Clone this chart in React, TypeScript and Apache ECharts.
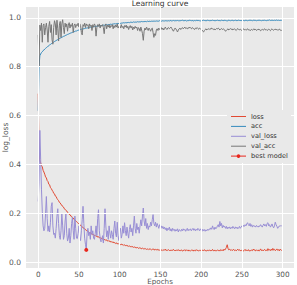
import React, { useEffect, useRef } from "react";
import * as echarts from "echarts";

// Training history, one value per epoch (0..299)
const loss = [
  0.690, 0.452, 0.416, 0.408, 0.396, 0.391, 0.377, 0.370, 0.361, 0.350,
  0.346, 0.335, 0.331, 0.320, 0.318, 0.306, 0.303, 0.296, 0.291, 0.283,
  0.281, 0.272, 0.270, 0.262, 0.257, 0.253, 0.246, 0.244, 0.237, 0.235,
  0.229, 0.227, 0.220, 0.218, 0.213, 0.211, 0.205, 0.203, 0.197, 0.196,
  0.190, 0.189, 0.183, 0.182, 0.176, 0.175, 0.170, 0.168, 0.164, 0.161,
  0.158, 0.155, 0.153, 0.148, 0.147, 0.142, 0.141, 0.137, 0.136, 0.131,
  0.130, 0.127, 0.126, 0.121, 0.123, 0.117, 0.118, 0.114, 0.115, 0.110,
  0.111, 0.107, 0.109, 0.104, 0.106, 0.101, 0.103, 0.098, 0.100, 0.096,
  0.097, 0.093, 0.095, 0.090, 0.093, 0.088, 0.090, 0.086, 0.089, 0.084,
  0.085, 0.083, 0.085, 0.080, 0.082, 0.078, 0.081, 0.076, 0.079, 0.075,
  0.077, 0.073, 0.076, 0.072, 0.074, 0.070, 0.073, 0.069, 0.071, 0.067,
  0.070, 0.066, 0.068, 0.065, 0.067, 0.063, 0.066, 0.062, 0.064, 0.061,
  0.063, 0.060, 0.062, 0.058, 0.061, 0.058, 0.060, 0.056, 0.059, 0.056,
  0.058, 0.055, 0.057, 0.054, 0.056, 0.053, 0.057, 0.054, 0.055, 0.052,
  0.055, 0.053, 0.056, 0.051, 0.054, 0.052, 0.055, 0.050, 0.053, 0.051,
  0.054, 0.050, 0.053, 0.049, 0.052, 0.051, 0.055, 0.049, 0.052, 0.050,
  0.053, 0.049, 0.051, 0.048, 0.052, 0.050, 0.054, 0.049, 0.051, 0.048,
  0.052, 0.050, 0.053, 0.048, 0.051, 0.049, 0.052, 0.047, 0.050, 0.049,
  0.053, 0.048, 0.051, 0.049, 0.052, 0.047, 0.050, 0.048, 0.051, 0.049,
  0.052, 0.047, 0.050, 0.048, 0.053, 0.049, 0.051, 0.047, 0.050, 0.049,
  0.052, 0.048, 0.051, 0.049, 0.053, 0.048, 0.050, 0.047, 0.051, 0.049,
  0.052, 0.048, 0.050, 0.049, 0.054, 0.048, 0.051, 0.047, 0.050, 0.048,
  0.052, 0.049, 0.051, 0.047, 0.053, 0.050, 0.052, 0.048, 0.055, 0.051,
  0.056, 0.062, 0.073, 0.058, 0.052, 0.055, 0.050, 0.053, 0.049, 0.052,
  0.054, 0.049, 0.052, 0.048, 0.051, 0.055, 0.050, 0.053, 0.048, 0.051,
  0.049, 0.052, 0.047, 0.050, 0.054, 0.048, 0.051, 0.049, 0.053, 0.047,
  0.050, 0.048, 0.052, 0.049, 0.055, 0.050, 0.053, 0.048, 0.051, 0.049,
  0.052, 0.047, 0.050, 0.056, 0.049, 0.052, 0.048, 0.051, 0.054, 0.049,
  0.051, 0.048, 0.057, 0.050, 0.053, 0.049, 0.055, 0.050, 0.058, 0.051,
  0.054, 0.049, 0.052, 0.056, 0.050, 0.053, 0.048, 0.055, 0.051, 0.050,
];

const acc = [
  0.620, 0.800, 0.845, 0.852, 0.858, 0.861, 0.866, 0.868, 0.872, 0.875,
  0.878, 0.880, 0.884, 0.886, 0.889, 0.891, 0.894, 0.896, 0.899, 0.900,
  0.903, 0.905, 0.907, 0.909, 0.911, 0.913, 0.915, 0.917, 0.918, 0.920,
  0.922, 0.924, 0.925, 0.927, 0.929, 0.930, 0.932, 0.933, 0.935, 0.936,
  0.938, 0.939, 0.940, 0.942, 0.943, 0.944, 0.946, 0.946, 0.948, 0.949,
  0.950, 0.951, 0.952, 0.953, 0.954, 0.955, 0.955, 0.956, 0.957, 0.958,
  0.958, 0.959, 0.960, 0.960, 0.961, 0.962, 0.962, 0.963, 0.963, 0.964,
  0.965, 0.964, 0.966, 0.966, 0.967, 0.967, 0.968, 0.967, 0.969, 0.969,
  0.970, 0.969, 0.971, 0.970, 0.972, 0.971, 0.972, 0.973, 0.972, 0.974,
  0.973, 0.974, 0.975, 0.974, 0.976, 0.975, 0.976, 0.977, 0.976, 0.977,
  0.978, 0.977, 0.978, 0.979, 0.978, 0.980, 0.979, 0.980, 0.979, 0.981,
  0.980, 0.981, 0.980, 0.982, 0.981, 0.982, 0.981, 0.983, 0.982, 0.982,
  0.983, 0.982, 0.984, 0.983, 0.983, 0.984, 0.983, 0.985, 0.984, 0.984,
  0.985, 0.984, 0.985, 0.984, 0.986, 0.985, 0.985, 0.986, 0.985, 0.986,
  0.986, 0.985, 0.987, 0.986, 0.986, 0.987, 0.986, 0.987, 0.986, 0.988,
  0.987, 0.986, 0.987, 0.988, 0.987, 0.987, 0.988, 0.987, 0.988, 0.987,
  0.988, 0.987, 0.989, 0.988, 0.987, 0.988, 0.989, 0.988, 0.987, 0.989,
  0.988, 0.989, 0.988, 0.987, 0.989, 0.988, 0.989, 0.990, 0.988, 0.989,
  0.988, 0.989, 0.987, 0.988, 0.989, 0.988, 0.990, 0.989, 0.988, 0.989,
  0.988, 0.987, 0.989, 0.988, 0.989, 0.990, 0.988, 0.989, 0.988, 0.987,
  0.989, 0.988, 0.989, 0.990, 0.989, 0.988, 0.989, 0.988, 0.990, 0.989,
  0.988, 0.989, 0.988, 0.989, 0.990, 0.989, 0.988, 0.989, 0.988, 0.989,
  0.990, 0.989, 0.988, 0.989, 0.988, 0.990, 0.989, 0.989, 0.988, 0.990,
  0.989, 0.988, 0.987, 0.989, 0.990, 0.989, 0.988, 0.989, 0.990, 0.989,
  0.988, 0.989, 0.990, 0.989, 0.988, 0.989, 0.990, 0.989, 0.989, 0.988,
  0.989, 0.990, 0.989, 0.988, 0.989, 0.990, 0.989, 0.988, 0.989, 0.990,
  0.989, 0.990, 0.989, 0.988, 0.990, 0.989, 0.990, 0.989, 0.988, 0.989,
  0.990, 0.989, 0.990, 0.989, 0.988, 0.989, 0.990, 0.989, 0.990, 0.989,
  0.988, 0.990, 0.989, 0.990, 0.991, 0.989, 0.990, 0.989, 0.990, 0.989,
  0.990, 0.989, 0.990, 0.991, 0.989, 0.990, 0.989, 0.990, 0.989, 0.990,
];

const valLoss = [
  0.250, 0.330, 0.540, 0.420, 0.300, 0.210, 0.150, 0.130, 0.140, 0.200,
  0.270, 0.180, 0.128, 0.150, 0.125, 0.165, 0.230, 0.245, 0.150, 0.115,
  0.120, 0.100, 0.140, 0.190, 0.220, 0.160, 0.110, 0.095, 0.130, 0.200,
  0.150, 0.095, 0.110, 0.170, 0.200, 0.120, 0.088, 0.100, 0.140, 0.080,
  0.110, 0.160, 0.185, 0.130, 0.095, 0.190, 0.140, 0.100, 0.098, 0.120,
  0.150, 0.105, 0.090, 0.130, 0.175, 0.230, 0.160, 0.100, 0.075, 0.052,
  0.120, 0.140, 0.110, 0.125, 0.095, 0.150, 0.115, 0.130, 0.100, 0.095,
  0.120, 0.150, 0.110, 0.180, 0.216, 0.130, 0.100, 0.085, 0.090, 0.110,
  0.080, 0.140, 0.220, 0.150, 0.105, 0.130, 0.095, 0.150, 0.120, 0.100,
  0.130, 0.115, 0.095, 0.140, 0.170, 0.120, 0.105, 0.165, 0.110, 0.090,
  0.125, 0.140, 0.100, 0.115, 0.150, 0.120, 0.163, 0.130, 0.110, 0.145,
  0.120, 0.100, 0.135, 0.155, 0.125, 0.140, 0.110, 0.150, 0.190, 0.140,
  0.120, 0.160, 0.135, 0.145, 0.120, 0.150, 0.175, 0.150, 0.190, 0.223,
  0.170, 0.150, 0.180, 0.140, 0.160, 0.135, 0.150, 0.145, 0.165, 0.150,
  0.175, 0.196, 0.160, 0.150, 0.165, 0.145, 0.160, 0.150, 0.140, 0.155,
  0.145, 0.150, 0.140, 0.148, 0.138, 0.145, 0.135, 0.142, 0.130, 0.140,
  0.135, 0.145, 0.130, 0.138, 0.128, 0.140, 0.132, 0.136, 0.128, 0.135,
  0.130, 0.138, 0.125, 0.135, 0.132, 0.128, 0.136, 0.130, 0.138, 0.132,
  0.136, 0.128, 0.134, 0.140, 0.130, 0.136, 0.132, 0.138, 0.130, 0.135,
  0.140, 0.132, 0.138, 0.130, 0.136, 0.132, 0.140, 0.135, 0.130, 0.138,
  0.132, 0.128, 0.136, 0.130, 0.135, 0.128, 0.134, 0.130, 0.136, 0.132,
  0.138, 0.135, 0.142, 0.136, 0.150, 0.140, 0.135, 0.145, 0.138, 0.142,
  0.150, 0.155, 0.145, 0.168, 0.150, 0.160, 0.142, 0.152, 0.145, 0.148,
  0.140, 0.148, 0.138, 0.145, 0.140, 0.146, 0.138, 0.144, 0.140, 0.148,
  0.142, 0.138, 0.146, 0.140, 0.145, 0.138, 0.142, 0.148, 0.140, 0.145,
  0.150, 0.145, 0.152, 0.148, 0.155, 0.150, 0.158, 0.163, 0.155, 0.150,
  0.160, 0.148, 0.155, 0.145, 0.152, 0.148, 0.150, 0.145, 0.152, 0.148,
  0.145, 0.150, 0.148, 0.155, 0.150, 0.145, 0.152, 0.158, 0.150, 0.155,
  0.148, 0.160, 0.163, 0.150, 0.155, 0.145, 0.150, 0.158, 0.148, 0.142,
  0.150, 0.165, 0.155, 0.148, 0.140, 0.145, 0.150, 0.148, 0.152, 0.148,
];

const valAcc = [
  0.930, 0.800, 0.970, 0.948, 0.978, 0.900, 0.968, 0.975, 0.930, 0.960,
  0.978, 0.950, 0.900, 0.965, 0.985, 0.940, 0.972, 0.910, 0.892, 0.960,
  0.988, 0.975, 0.930, 0.990, 0.955, 0.905, 0.970, 0.985, 0.920, 0.975,
  0.992, 0.960, 0.935, 0.978, 0.962, 0.975, 0.945, 0.970, 0.980, 0.958,
  0.972, 0.965, 0.978, 0.940, 0.968, 0.975, 0.960, 0.972, 0.968, 0.978,
  0.962, 0.975, 0.968, 0.940, 0.930, 0.972, 0.965, 0.978, 0.960, 0.975,
  0.968, 0.972, 0.955, 0.975, 0.965, 0.970, 0.948, 0.972, 0.962, 0.975,
  0.968, 0.925, 0.960, 0.972, 0.965, 0.975, 0.958, 0.970, 0.965, 0.972,
  0.960, 0.935, 0.968, 0.975, 0.955, 0.970, 0.962, 0.972, 0.958, 0.968,
  0.965, 0.972, 0.955, 0.968, 0.960, 0.970, 0.962, 0.975, 0.958, 0.965,
  0.968, 0.958, 0.972, 0.960, 0.965, 0.955, 0.968, 0.962, 0.970, 0.958,
  0.965, 0.952, 0.962, 0.968, 0.958, 0.965, 0.950, 0.962, 0.955, 0.965,
  0.958, 0.962, 0.948, 0.960, 0.955, 0.945, 0.962, 0.950, 0.935, 0.908,
  0.945, 0.958, 0.950, 0.962, 0.955, 0.948, 0.958, 0.952, 0.945, 0.955,
  0.958, 0.940, 0.920, 0.935, 0.928, 0.950, 0.955, 0.948, 0.958, 0.952,
  0.955, 0.960, 0.952, 0.958, 0.950, 0.955, 0.962, 0.956, 0.952, 0.958,
  0.960, 0.955, 0.958, 0.962, 0.956, 0.950, 0.945, 0.952, 0.958, 0.955,
  0.948, 0.942, 0.950, 0.955, 0.958, 0.952, 0.956, 0.960, 0.955, 0.958,
  0.962, 0.956, 0.958, 0.955, 0.960, 0.957, 0.962, 0.958, 0.955, 0.960,
  0.957, 0.955, 0.952, 0.958, 0.955, 0.960, 0.956, 0.953, 0.958, 0.955,
  0.952, 0.950, 0.945, 0.942, 0.948, 0.952, 0.955, 0.950, 0.953, 0.955,
  0.952, 0.956, 0.953, 0.958, 0.955, 0.952, 0.955, 0.950, 0.953, 0.956,
  0.954, 0.958, 0.955, 0.950, 0.953, 0.956, 0.952, 0.955, 0.953, 0.950,
  0.945, 0.948, 0.952, 0.955, 0.950, 0.953, 0.956, 0.952, 0.955, 0.950,
  0.953, 0.955, 0.951, 0.948, 0.953, 0.956, 0.952, 0.950, 0.954, 0.951,
  0.948, 0.952, 0.955, 0.950, 0.953, 0.949, 0.952, 0.955, 0.950, 0.952,
  0.947, 0.950, 0.953, 0.949, 0.952, 0.955, 0.950, 0.953, 0.948, 0.951,
  0.954, 0.950, 0.952, 0.947, 0.950, 0.953, 0.949, 0.952, 0.955, 0.950,
  0.952, 0.948, 0.951, 0.954, 0.950, 0.947, 0.952, 0.955, 0.951, 0.949,
  0.952, 0.954, 0.950, 0.953, 0.949, 0.951, 0.954, 0.950, 0.948, 0.949,
];

// Checkpoint with the lowest validation loss
const bestEpoch = 59;
const bestValue = 0.052;

const xTicks = [0, 50, 100, 150, 200, 250, 300];
const yTicks = [0.0, 0.2, 0.4, 0.6, 0.8, 1.0];

const seriesNames = ["loss", "acc", "val_loss", "val_acc", "best model"];
const colors = ["#E24A33", "#348ABD", "#988ED5", "#777777", "#E8281E"];

const BG = "#E9E9E9";
const FONT = "DejaVu Sans";

export default function App() {
  const ref = useRef<HTMLDivElement>(null);

  useEffect(() => {
    if (!ref.current) return;
    const chart = echarts.init(ref.current, undefined, { renderer: "svg" });

    const toPairs = (arr: number[]) => arr.map((v, i) => [i, v]);

    // white grid lines at the tick positions
    const gridLineSeries = {
      type: "line",
      data: [],
      z: 1,
      silent: true,
      markLine: {
        silent: true,
        symbol: "none",
        animation: false,
        label: { show: false },
        lineStyle: { color: "#ffffff", width: 1, type: "solid" },
        data: [
          ...xTicks.map((v) => ({ xAxis: v })),
          ...yTicks.map((v) => ({ yAxis: v })),
        ],
      },
    };

    const lineSeries = [loss, acc, valLoss, valAcc].map((arr, i) => ({
      name: seriesNames[i],
      type: "line",
      data: toPairs(arr),
      showSymbol: false,
      symbol: "none",
      z: 3,
      lineStyle: { color: colors[i], width: 1 },
      itemStyle: { color: colors[i] },
    }));

    // legend entries drawn as graphics
    const legendX = 227;
    const legendY = 110;
    const rowH = 9.9;
    const legendEls: any[] = [
      {
        type: "rect",
        shape: { x: legendX, y: legendY, width: 64, height: 53 },
        style: { fill: BG },
        z: 10,
      },
    ];
    seriesNames.forEach((name, i) => {
      const cy = legendY + 6.5 + i * rowH;
      legendEls.push({
        type: "line",
        shape: { x1: 231, y1: cy, x2: 246, y2: cy },
        style: { stroke: colors[i], lineWidth: 1 },
        z: 11,
      });
      if (i === 4) {
        legendEls.push({
          type: "circle",
          shape: { cx: 238.5, cy, r: 1.8 },
          style: { fill: colors[i] },
          z: 11,
        });
      }
      legendEls.push({
        type: "text",
        x: 251,
        y: cy,
        style: {
          text: name,
          fill: "#333333",
          font: `6.6px "${FONT}"`,
          verticalAlign: "middle",
          align: "left",
        },
        z: 11,
      });
    });

    chart.setOption({
      animation: false,
      grid: {
        left: 26,
        right: 3,
        top: 7,
        bottom: 17,
        show: true,
        backgroundColor: BG,
        borderWidth: 0,
        containLabel: false,
        outerBoundsMode: "none",
      },
      xAxis: {
        type: "value",
        min: -15,
        max: 314,
        name: "Epochs",
        nameLocation: "middle",
        nameGap: 10,
        nameMoveOverlap: false,
        nameTextStyle: {
          color: "#555555",
          fontFamily: FONT,
          fontSize: 7.2,
          lineHeight: 7.5,
        },
        axisLine: { show: false },
        axisTick: { show: false },
        splitLine: { show: false },
        axisLabel: {
          customValues: xTicks,
          color: "#555555",
          fontFamily: FONT,
          fontSize: 7.3,
          lineHeight: 8,
          margin: 2,
          showMinLabel: true,
          showMaxLabel: true,
        },
      },
      yAxis: {
        type: "value",
        min: -0.022,
        max: 1.044,
        name: "log_loss",
        nameLocation: "middle",
        nameGap: 17,
        nameMoveOverlap: false,
        nameTextStyle: { color: "#555555", fontFamily: FONT, fontSize: 7.5 },
        axisLine: { show: false },
        axisTick: { show: false },
        splitLine: { show: false },
        axisLabel: {
          customValues: yTicks,
          formatter: (v: number) => v.toFixed(1),
          color: "#555555",
          fontFamily: FONT,
          fontSize: 7.5,
          margin: 5,
        },
      },
      graphic: [
        {
          type: "text",
          x: 160,
          y: 3.5,
          style: {
            text: "Learning curve",
            fill: "#333333",
            font: `7.6px "${FONT}"`,
            align: "center",
            verticalAlign: "middle",
          },
        },
        ...legendEls,
      ],
      series: [
        gridLineSeries,
        ...lineSeries,
        {
          name: seriesNames[4],
          type: "line",
          data: [[bestEpoch, bestValue]],
          symbol: "circle",
          symbolSize: 4,
          z: 4,
          lineStyle: { color: colors[4], width: 1 },
          itemStyle: { color: colors[4] },
        },
      ],
    } as any);

    return () => chart.dispose();
  }, []);

  return (
    <div
      ref={ref}
      style={{ position: "absolute", left: 0, top: 0, width: 297, height: 285 }}
    />
  );
}
